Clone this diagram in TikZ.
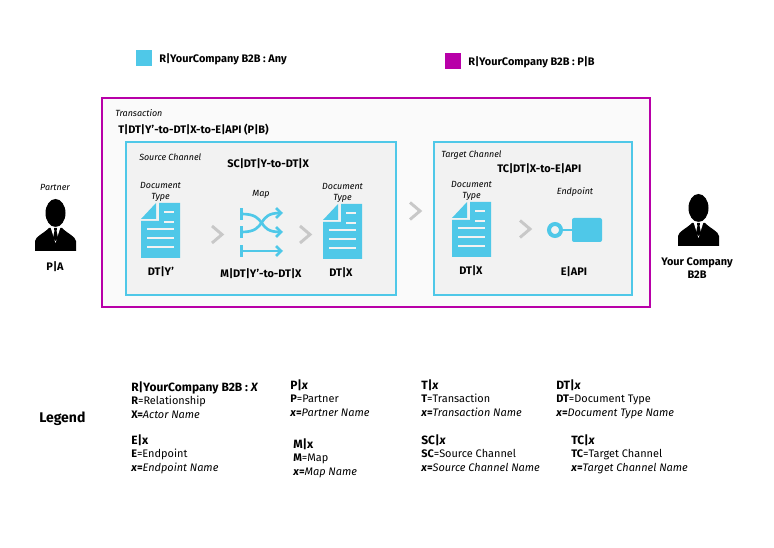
\documentclass[tikz,border=0pt]{standalone}
\usepackage{fontspec}
\setmainfont{Fira Sans}
\usetikzlibrary{arrows.meta}

\definecolor{skyicon}{HTML}{4FC8E8}
\definecolor{magentaline}{HTML}{B800A8}
\definecolor{chevrongray}{HTML}{C8C8C8}

\tikzset{
    boldlabel/.style={font=\fontsize{8.2}{9.6}\selectfont\bfseries, inner sep=0pt},
    typelabel/.style={font=\fontsize{6.7}{8.2}\selectfont\itshape, inner sep=0pt, align=center},
    legendtext/.style={font=\fontsize{8.2}{10}\selectfont, inner sep=0pt, anchor=north west, align=left},
    chevron/.style={chevrongray, line width=2.2pt},
    maparrow/.style={{Bar[width=8.5pt,length=1.8pt]}-{Straight Barb[length=3.8pt,width=7.5pt]}, skyicon, line width=2pt},
    docicon/.pic={
        \fill [skyicon] (18,0) -- (39,0) -- (39,55) -- (0,55) -- (0,18) -- (18,18) -- cycle;
        \fill [skyicon] (0,16) -- (15,0) -- (15,16) -- cycle;
        \draw [white!95!black, line width=1.5pt] (23,9) -- (33,9);
        \draw [white!95!black, line width=1.5pt] (23,19) -- (33,19);
        \foreach \y in {26, 35, 44} {
            \draw [white!95!black, line width=1.5pt] (6,\y) -- (33,\y);
        }
    },
    personicon/.pic={
        \fill [black] (20.5,13) ellipse [x radius=10, y radius=14];
        \fill [black] (0,51) -- (0,41) .. controls (1,36) and (8,34) .. (14,28) -- (27,28)
            .. controls (33,34) and (40,36) .. (41,41) -- (41,51) -- cycle;
        \fill [white] (15.5,27) -- (20.5,43) -- (25.5,27) -- cycle;
        \fill [black] (19,28) -- (22,28) -- (21.6,31) -- (23,38) -- (20.5,41) -- (18,38) -- (19.4,31) -- cycle;
    }
}

\begin{document}
\begin{tikzpicture}[x=0.75pt, y=-0.75pt, >=Stealth]

    \useasboundingbox (0,0) rectangle (774,548);

    % --- relationship keys ---
    \fill [skyicon] (136,50) rectangle (152,66);
    \node [boldlabel, anchor=west] (keyany) at (159,59.5) {R|YourCompany B2B : Any};
    \fill [magentaline] (445,53) rectangle (461,69);
    \node [boldlabel, anchor=west] (keypb) at (468,62.5) {R|YourCompany B2B : P|B};

    % --- frames ---
    \draw [line width=1.5pt, magentaline, fill=black!2] (102,98) rectangle (650,307);
    \draw [line width=1.5pt, skyicon, fill=black!5] (126,142) rectangle (396,295);
    \draw [line width=1.5pt, skyicon, fill=black!5] (434,142) rectangle (632,295);

    \node [typelabel, anchor=west] (translabel) at (115,113) {Transaction};
    \node [boldlabel, anchor=west] (transname) at (118,129.5) {T|DT|Y’-to-DT|X-to-E|API (P|B)};
    \node [typelabel, anchor=west] (sourcelabel) at (139,157) {Source Channel};
    \node [boldlabel, anchor=west] (sourcename) at (227,163.5) {SC|DT|Y-to-DT|X};
    \node [typelabel, anchor=west] (targetlabel) at (441,155) {Target Channel};
    \node [boldlabel, anchor=west] (targetname) at (497,168.5) {TC|DT|X-to-E|API};

    % --- document types ---
    \pic at (141,203) {docicon};
    \pic at (323,204) {docicon};
    \pic at (452,202) {docicon};
    \node [typelabel] (doclabela) at (160.5,192) {Document\\Type};
    \node [typelabel] (doclabelb) at (342.5,192.5) {Document\\Type};
    \node [typelabel] (doclabelc) at (471.5,190.5) {Document\\Type};
    \node [boldlabel] (docnamea) at (161,271.5) {DT|Y’};
    \node [boldlabel] (docnameb) at (341,272.5) {DT|X};
    \node [boldlabel] (docnamec) at (471,270.5) {DT|X};

    % --- map ---
    \node [typelabel] (maplabel) at (261,194) {Map};
    \draw [maparrow] (240,214) .. controls (268,214) and (256,232) .. (283,232);
    \draw [maparrow] (240,232) .. controls (268,232) and (256,213) .. (283,213);
    \draw [maparrow] (240,251) -- (283,251);
    \node [boldlabel] (mapname) at (261,273.5) {M|DT|Y’-to-DT|X};

    % --- endpoint ---
    \node [typelabel] (endlabel) at (575,192) {Endpoint};
    \draw [skyicon, line width=3pt] (555,230) circle (6);
    \draw [skyicon, line width=1.5pt] (561,230) -- (573,230);
    \fill [skyicon, rounded corners=1.5pt] (572,218) rectangle (602,242);
    \node [boldlabel] (endname) at (574,271.5) {E|API};

    % --- chevrons ---
    \foreach \x/\y in {212/234.5, 300/234.5, 410/211, 520/229} {
        \draw [chevron] (\x,\y-8.5) -- (\x+10,\y) -- (\x,\y+8.5);
    }

    % --- actors ---
    \node [typelabel] (partnerlabel) at (55,187) {Partner};
    \pic at (35,200) {personicon};
    \node [boldlabel] (partnername) at (55,266.5) {P|A};
    \pic at (678,195) {personicon};
    \node [boldlabel, align=center] (companyname) at (697,268) {Your Company\\B2B};

    % --- legend ---
    \node [font=\fontsize{10.5}{12}\selectfont\bfseries, inner sep=0pt, anchor=west] (legendtitle) at (39,419) {Legend};
    \foreach \nm/\px/\py/\hd/\la/\lb in {
        rel/131/381.5/{R|YourCompany B2B : \textit{X}}/{\textbf{R}=Relationship}/{\textbf{X=}\textit{Actor Name}},
        end/131/434.5/{E|x}/{\textbf{E}=Endpoint}/{\textbf{\textit{x}=}\textit{Endpoint Name}},
        par/290/379.5/{P|\textit{x}}/{\textbf{P}=Partner}/{\textbf{\textit{x}=}\textit{Partner Name}},
        map/293/438.5/{M|x}/{\textbf{M}=Map}/{\textbf{\textit{x}=}\textit{Map Name}},
        tra/421/379.5/{T|\textit{x}}/{\textbf{T}=Transaction}/{\textbf{\textit{x}=}\textit{Transaction Name}},
        doc/556/379.5/{DT|\textit{x}}/{\textbf{DT}=Document Type}/{\textbf{\textit{x}=}\textit{Document Type Name}},
        sou/421/434.5/{SC|\textit{x}}/{\textbf{SC}=Source Channel}/{\textbf{\textit{x}=}\textit{Source Channel Name}},
        tar/571/434.5/{TC|\textit{x}}/{\textbf{TC}=Target Channel}/{\textbf{\textit{x}=}\textit{Target Channel Name}}%
    } {
        \node [legendtext] (\nm) at (\px,\py) {{\fontsize{9}{10}\selectfont\bfseries \hd}\\\la\\\lb};
    }

\end{tikzpicture}
\end{document}
